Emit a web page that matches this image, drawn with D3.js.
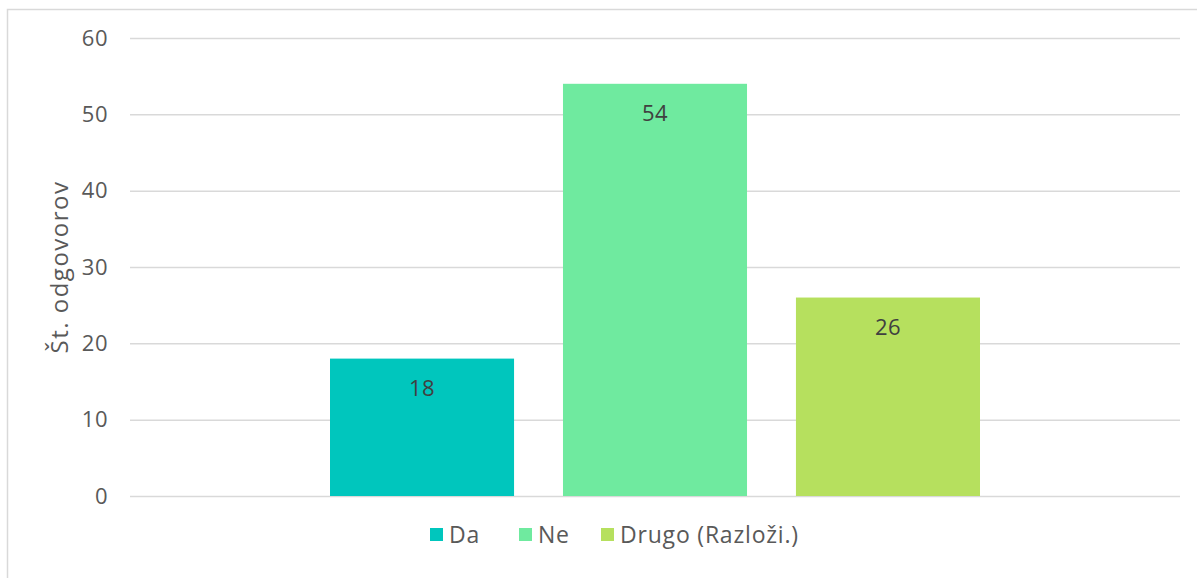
<!DOCTYPE html>
<html>
<head>
<meta charset="utf-8">
<script src="https://cdn.jsdelivr.net/npm/d3@7"></script>
<style>
  body { margin: 0; background: #fff; }
  text { font-family: "Open Sans", "DejaVu Sans", sans-serif; }
</style>
</head>
<body>
<svg class="chart" width="1197" height="578"></svg>
<script>
// values
const categories = [""];
const series = ["Da", "Ne", "Drugo (Razloži.)"];
const values = [18, 54, 26];
const colors = ["#00C6BD", "#6FEA9F", "#B6E05E"];
const yTicks = [0, 10, 20, 30, 40, 50, 60];
const yTitle = "Št. odgovorov";

const svg = d3.select(".chart");

// chart border
svg.append("rect")
    .attr("x", 7.5).attr("y", 9.5)
    .attr("width", 1200).attr("height", 600)
    .attr("fill", "none")
    .attr("stroke", "#d9d9d9")
    .attr("stroke-width", 1.5);

const margin = { left: 130, right: 17, top: 38, bottom: 82 };
const W = 1197, H = 578;

const y = d3.scaleLinear().domain([0, 60]).range([H - margin.bottom, margin.top]);
const x0 = d3.scaleBand().domain(categories)
    .range([margin.left, W - margin.right])
    .paddingOuter(0.3077).paddingInner(0);
const x1 = d3.scaleBand().domain(series)
    .range([0, x0.bandwidth()])
    .paddingInner(0.21).paddingOuter(0);

// gridlines
const yAxis = d3.axisLeft(y).tickValues(yTicks)
    .tickSize(-(W - margin.left - margin.right))
    .tickPadding(22);
const ga = svg.append("g")
    .attr("transform", `translate(${margin.left},0)`)
    .call(yAxis);
ga.select(".domain").remove();
ga.selectAll(".tick line").attr("stroke", "#d9d9d9").attr("stroke-width", 1.5);
ga.selectAll(".tick text")
    .attr("fill", "#595959")
    .style("font-size", "22px")
    .style("letter-spacing", "0.5px");

// bars
const g = svg.append("g").attr("transform", `translate(${x0(categories[0])},0)`);
g.selectAll("rect").data(values).enter().append("rect")
    .attr("x", (d, i) => x1(series[i]))
    .attr("y", d => y(d))
    .attr("width", x1.bandwidth())
    .attr("height", d => y(0) - y(d))
    .attr("fill", (d, i) => colors[i]);

g.selectAll("text.lbl").data(values).enter().append("text")
    .attr("class", "lbl")
    .attr("x", (d, i) => x1(series[i]) + x1.bandwidth() / 2)
    .attr("y", d => y(d) + 37)
    .attr("text-anchor", "middle")
    .attr("fill", "#404040")
    .style("font-size", "22px")
    .style("letter-spacing", "0.5px")
    .text(d => d);

// y title
svg.append("text")
    .attr("transform", `translate(68,${(y(0) + y(60)) / 2}) rotate(-90)`)
    .attr("text-anchor", "middle")
    .attr("fill", "#595959")
    .style("font-size", "24px")
    .style("letter-spacing", "1.5px")
    .text(yTitle);

// legend
const legendX = [430, 519, 601];
const leg = svg.append("g").selectAll("g").data(series).enter().append("g")
    .attr("transform", (d, i) => `translate(${legendX[i]},528)`);
leg.append("rect")
    .attr("width", 13).attr("height", 13)
    .attr("fill", (d, i) => colors[i]);
leg.append("text")
    .attr("x", 19).attr("y", 15)
    .attr("fill", "#595959")
    .style("font-size", "23px")
    .style("letter-spacing", "0.8px")
    .text(d => d);
</script>
</body>
</html>
